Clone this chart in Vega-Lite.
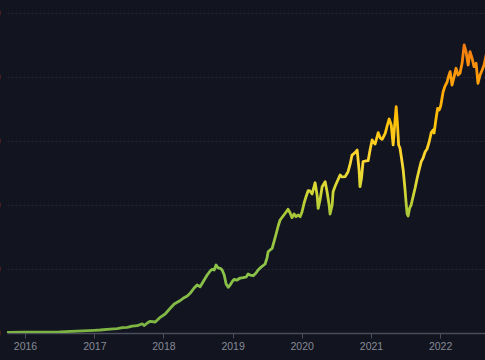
{
  "$schema": "https://vega.github.io/schema/vega-lite/v6.json",
  "width": 478,
  "height": 320,
  "autosize": "none",
  "padding": {"left": 7, "top": 13, "right": 0, "bottom": 27},
  "background": "#121520",
  "view": {"stroke": null},
  "config": {"font": "Liberation Sans"},
  "data": {"values": [
    {"date": "2015-09-29", "v": 8},
    {"date": "2016-01-01", "v": 12},
    {"date": "2016-04-01", "v": 14},
    {"date": "2016-07-02", "v": 18},
    {"date": "2016-10-01", "v": 28},
    {"date": "2017-01-01", "v": 42},
    {"date": "2017-02-01", "v": 47},
    {"date": "2017-03-26", "v": 62},
    {"date": "2017-05-02", "v": 67},
    {"date": "2017-05-29", "v": 83},
    {"date": "2017-06-24", "v": 89},
    {"date": "2017-07-20", "v": 109},
    {"date": "2017-08-16", "v": 114},
    {"date": "2017-09-01", "v": 133},
    {"date": "2017-09-11", "v": 141},
    {"date": "2017-09-22", "v": 117},
    {"date": "2017-10-08", "v": 156},
    {"date": "2017-10-23", "v": 183},
    {"date": "2017-11-19", "v": 172},
    {"date": "2017-12-15", "v": 245},
    {"date": "2018-01-10", "v": 297},
    {"date": "2018-02-06", "v": 386},
    {"date": "2018-02-27", "v": 453},
    {"date": "2018-03-15", "v": 480},
    {"date": "2018-03-31", "v": 508},
    {"date": "2018-04-15", "v": 542},
    {"date": "2018-05-07", "v": 578},
    {"date": "2018-05-22", "v": 620},
    {"date": "2018-06-12", "v": 703},
    {"date": "2018-06-28", "v": 750},
    {"date": "2018-07-14", "v": 723},
    {"date": "2018-08-04", "v": 828},
    {"date": "2018-08-20", "v": 906},
    {"date": "2018-09-05", "v": 969},
    {"date": "2018-09-15", "v": 995},
    {"date": "2018-09-26", "v": 984},
    {"date": "2018-10-06", "v": 1063},
    {"date": "2018-10-17", "v": 1016},
    {"date": "2018-10-28", "v": 1011},
    {"date": "2018-11-07", "v": 984},
    {"date": "2018-11-18", "v": 906},
    {"date": "2018-11-28", "v": 766},
    {"date": "2018-12-09", "v": 714},
    {"date": "2018-12-19", "v": 750},
    {"date": "2018-12-30", "v": 802},
    {"date": "2019-01-09", "v": 836},
    {"date": "2019-01-25", "v": 828},
    {"date": "2019-02-10", "v": 859},
    {"date": "2019-02-26", "v": 864},
    {"date": "2019-03-14", "v": 875},
    {"date": "2019-03-24", "v": 922},
    {"date": "2019-04-04", "v": 906},
    {"date": "2019-04-20", "v": 895},
    {"date": "2019-05-05", "v": 938},
    {"date": "2019-05-16", "v": 984},
    {"date": "2019-06-01", "v": 1031},
    {"date": "2019-06-22", "v": 1078},
    {"date": "2019-07-02", "v": 1172},
    {"date": "2019-07-08", "v": 1270},
    {"date": "2019-07-18", "v": 1297},
    {"date": "2019-07-29", "v": 1323},
    {"date": "2019-08-08", "v": 1427},
    {"date": "2019-08-19", "v": 1547},
    {"date": "2019-08-30", "v": 1672},
    {"date": "2019-09-09", "v": 1766},
    {"date": "2019-09-25", "v": 1828},
    {"date": "2019-10-11", "v": 1891},
    {"date": "2019-10-21", "v": 1933},
    {"date": "2019-11-01", "v": 1875},
    {"date": "2019-11-11", "v": 1802},
    {"date": "2019-11-22", "v": 1859},
    {"date": "2019-12-02", "v": 1817},
    {"date": "2019-12-13", "v": 1844},
    {"date": "2019-12-24", "v": 1817},
    {"date": "2020-01-03", "v": 1895},
    {"date": "2020-01-14", "v": 2031},
    {"date": "2020-01-24", "v": 2130},
    {"date": "2020-02-04", "v": 2223},
    {"date": "2020-02-14", "v": 2219},
    {"date": "2020-02-25", "v": 2172},
    {"date": "2020-03-12", "v": 2348},
    {"date": "2020-03-23", "v": 2141},
    {"date": "2020-03-28", "v": 1948},
    {"date": "2020-04-07", "v": 2078},
    {"date": "2020-04-18", "v": 2286},
    {"date": "2020-05-04", "v": 2364},
    {"date": "2020-05-14", "v": 2208},
    {"date": "2020-05-25", "v": 2000},
    {"date": "2020-05-30", "v": 1859},
    {"date": "2020-06-10", "v": 2000},
    {"date": "2020-06-15", "v": 2208},
    {"date": "2020-06-26", "v": 2297},
    {"date": "2020-07-06", "v": 2364},
    {"date": "2020-07-22", "v": 2469},
    {"date": "2020-08-01", "v": 2438},
    {"date": "2020-08-17", "v": 2442},
    {"date": "2020-09-02", "v": 2520},
    {"date": "2020-09-13", "v": 2641},
    {"date": "2020-09-23", "v": 2781},
    {"date": "2020-10-09", "v": 2817},
    {"date": "2020-10-20", "v": 2859},
    {"date": "2020-10-30", "v": 2547},
    {"date": "2020-11-04", "v": 2286},
    {"date": "2020-11-12", "v": 2422},
    {"date": "2020-11-20", "v": 2677},
    {"date": "2020-12-06", "v": 2688},
    {"date": "2020-12-17", "v": 2692},
    {"date": "2020-12-27", "v": 2859},
    {"date": "2021-01-07", "v": 3016},
    {"date": "2021-01-18", "v": 2969},
    {"date": "2021-01-23", "v": 2953},
    {"date": "2021-02-08", "v": 3130},
    {"date": "2021-02-19", "v": 3047},
    {"date": "2021-03-01", "v": 3027},
    {"date": "2021-03-17", "v": 3120},
    {"date": "2021-03-27", "v": 3234},
    {"date": "2021-04-07", "v": 3344},
    {"date": "2021-04-18", "v": 3250},
    {"date": "2021-04-28", "v": 2938},
    {"date": "2021-05-06", "v": 3250},
    {"date": "2021-05-14", "v": 3536},
    {"date": "2021-05-21", "v": 3250},
    {"date": "2021-05-27", "v": 2938},
    {"date": "2021-06-03", "v": 2891},
    {"date": "2021-06-11", "v": 2734},
    {"date": "2021-06-20", "v": 2547},
    {"date": "2021-06-30", "v": 2234},
    {"date": "2021-07-05", "v": 2047},
    {"date": "2021-07-11", "v": 1859},
    {"date": "2021-07-16", "v": 1828},
    {"date": "2021-07-24", "v": 1953},
    {"date": "2021-08-01", "v": 2000},
    {"date": "2021-08-12", "v": 2141},
    {"date": "2021-08-22", "v": 2266},
    {"date": "2021-09-02", "v": 2422},
    {"date": "2021-09-12", "v": 2547},
    {"date": "2021-09-23", "v": 2677},
    {"date": "2021-10-03", "v": 2734},
    {"date": "2021-10-14", "v": 2833},
    {"date": "2021-10-24", "v": 2875},
    {"date": "2021-11-04", "v": 2984},
    {"date": "2021-11-15", "v": 3130},
    {"date": "2021-11-25", "v": 3172},
    {"date": "2021-11-30", "v": 3125},
    {"date": "2021-12-11", "v": 3359},
    {"date": "2021-12-19", "v": 3511},
    {"date": "2021-12-27", "v": 3484},
    {"date": "2022-01-04", "v": 3547},
    {"date": "2022-01-17", "v": 3770},
    {"date": "2022-01-27", "v": 3859},
    {"date": "2022-02-07", "v": 3922},
    {"date": "2022-02-12", "v": 3984},
    {"date": "2022-02-23", "v": 4083},
    {"date": "2022-03-05", "v": 3875},
    {"date": "2022-03-16", "v": 4005},
    {"date": "2022-03-26", "v": 4136},
    {"date": "2022-04-06", "v": 4031},
    {"date": "2022-04-16", "v": 4058},
    {"date": "2022-04-27", "v": 4214},
    {"date": "2022-05-02", "v": 4344},
    {"date": "2022-05-08", "v": 4500},
    {"date": "2022-05-18", "v": 4395},
    {"date": "2022-05-29", "v": 4188},
    {"date": "2022-06-08", "v": 4395},
    {"date": "2022-06-19", "v": 4292},
    {"date": "2022-06-29", "v": 4161},
    {"date": "2022-07-10", "v": 4214},
    {"date": "2022-07-20", "v": 3902},
    {"date": "2022-07-31", "v": 4031},
    {"date": "2022-08-11", "v": 4109},
    {"date": "2022-08-21", "v": 4188},
    {"date": "2022-09-01", "v": 4344},
    {"date": "2022-09-11", "v": 4422}
  ]},
  "mark": {
    "type": "line",
    "clip": true,
    "strokeWidth": 2.8,
    "strokeJoin": "round",
    "strokeCap": "round",
    "color": {
      "gradient": "linear",
      "x1": 0, "y1": 1, "x2": 0, "y2": 0,
      "stops": [
        {"offset": 0, "color": "#7cb342"},
        {"offset": 0.22, "color": "#8bc34a"},
        {"offset": 0.41, "color": "#a8c83a"},
        {"offset": 0.5, "color": "#d6d834"},
        {"offset": 0.6, "color": "#fdd835"},
        {"offset": 0.74, "color": "#ffc107"},
        {"offset": 0.88, "color": "#ff9f0a"},
        {"offset": 1, "color": "#f27a10"}
      ]
    }
  },
  "encoding": {
    "x": {
      "field": "date",
      "type": "temporal",
      "scale": {"type": "utc", "domain": ["2015-09-28", "2022-08-26"], "nice": false},
      "axis": {
        "title": null,
        "format": "%Y",
        "tickCount": "year",
        "grid": false,
        "domainColor": "#4a4e5a",
        "domainWidth": 1.5,
        "tickColor": "#4a4e5a",
        "tickSize": 5,
        "labelColor": "#858a96",
        "labelFontSize": 10.5,
        "labelPadding": 3,
        "labelFlush": false
      }
    },
    "y": {
      "field": "v",
      "type": "quantitative",
      "scale": {"domain": [0, 5000], "nice": false},
      "axis": {
        "title": null,
        "values": [0, 1000, 2000, 3000, 4000, 5000],
        "domain": false,
        "ticks": false,
        "labelPadding": 7,
        "labelColor": "#7a4e36",
        "labelFontSize": 11,
        "gridColor": "#262a36",
        "gridDash": [2, 2],
        "gridWidth": 1
      }
    }
  }
}
